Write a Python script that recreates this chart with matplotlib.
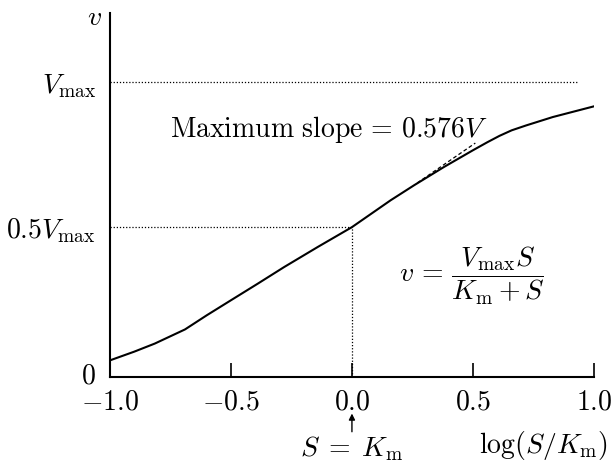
import numpy as np
import matplotlib.pyplot as plt

plt.rcParams['mathtext.fontset'] = 'cm'
plt.rcParams['font.family'] = 'serif'
plt.rcParams['font.serif'] = ['cmr10', 'DejaVu Serif']

# curve: log(S/Km) vs v/Vmax
log_s = [-1.0, -0.90, -0.815, -0.69, -0.60, -0.50, -0.39, -0.28, -0.14,
         0.0, 0.16, 0.257, 0.38, 0.50, 0.56, 0.61, 0.66, 0.72, 0.83, 1.0]
v_rel = [0.038, 0.068, 0.096, 0.145, 0.194, 0.246, 0.303, 0.361, 0.431,
         0.499, 0.592, 0.644, 0.707, 0.765, 0.793, 0.815, 0.834, 0.851,
         0.880, 0.917]

# dashed tangent (maximum slope) segment
tangent_x = [0.27, 0.51]
tangent_y = [0.652, 0.790]

x_ticks = [-1.0, -0.5, 0.0, 0.5, 1.0]
x_labels = [r'$-1.0$', r'$-0.5$', r'$0.0$', r'$0.5$', r'$1.0$']
y_labels = [r'$0$', r'$0.5V_{\rm max}$', r'$V_{\rm max}$']

fs = 20
y_bottom = -0.02
y_top = 1.24

fig = plt.figure(figsize=(6.11, 4.65), dpi=100)
ax = fig.add_axes([0.180, 0.189, 0.792, 0.783])

ax.plot(log_s, v_rel, color='black', lw=1.5)
ax.plot(tangent_x, tangent_y, color='black', lw=0.9, ls=(0, (3, 2)))

# guide lines
ax.plot([-1.0, 0.935], [1.0, 1.0], color='black', lw=0.9, ls=(0, (1, 1.5)))
ax.plot([-1.0, 0.0], [0.5, 0.5], color='black', lw=0.9, ls=(0, (1, 1.5)))
ax.plot([0.0, 0.0], [y_bottom, 0.5], color='black', lw=0.9, ls=(0, (1, 1.5)))

ax.set_xlim(-1.0, 1.0)
ax.set_ylim(y_bottom, y_top)

for side in ['top', 'right']:
    ax.spines[side].set_visible(False)
ax.spines['left'].set_linewidth(1.5)
ax.spines['bottom'].set_linewidth(1.5)

ax.set_xticks(x_ticks)
ax.set_xticklabels(x_labels, fontsize=fs)
ax.tick_params(axis='x', direction='in', length=10, width=1.2, pad=9)

ax.set_yticks([-0.008, 0.5, 1.0])
ax.set_yticklabels(y_labels, fontsize=fs)
ax.tick_params(axis='y', length=0, pad=10)

# axis names
ax.text(-1.035, 1.225, r'$v$', fontsize=fs, ha='right', va='center')
fig.text(608 / 611, 1 - 453 / 465, r'$\log(S/K_{\rm m})$', fontsize=fs,
         ha='right', va='baseline')

# S = Km marker under the 0.0 tick
ax.annotate('', xy=(0.0, -0.100), xytext=(0.0, -0.150),
            xycoords=('data', 'axes fraction'),
            textcoords=('data', 'axes fraction'),
            arrowprops=dict(arrowstyle='-|>', color='black', lw=1.0,
                            mutation_scale=9, shrinkA=0, shrinkB=0),
            annotation_clip=False)
ax.text(0.0, -0.218, r'$S\;=\;K_{\rm m}$', fontsize=fs, ha='center',
        va='baseline', transform=ax.get_xaxis_transform())

ax.text(-0.095, 0.81, r'$\mathrm{Maximum\ slope}\,=\,0.576V$',
        fontsize=fs, ha='center', va='baseline')
ax.text(0.495, 0.329, r'$v\,=\,\dfrac{V_{\rm max}S}{K_{\rm m} + S}$',
        fontsize=fs, ha='center', va='center')

fig.savefig('out.png', dpi=100)
